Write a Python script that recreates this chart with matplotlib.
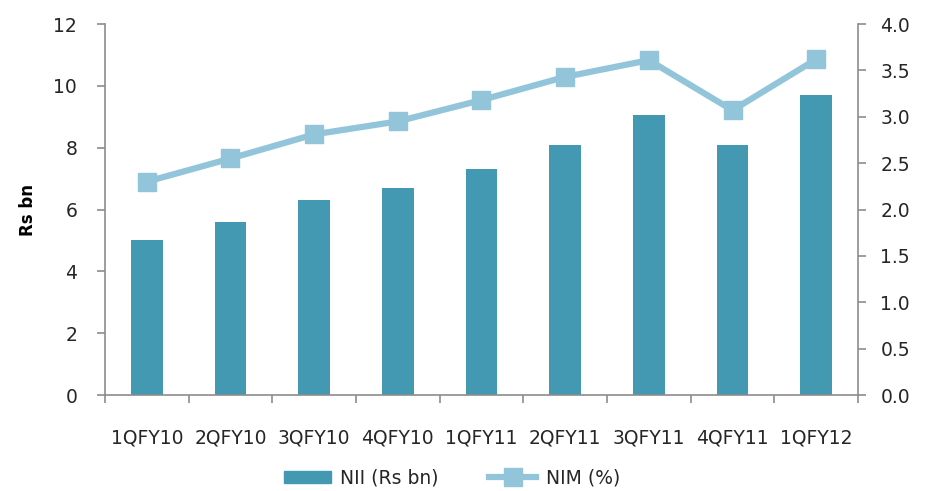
import numpy as np
import matplotlib as mpl
mpl.use("Agg")
import matplotlib.pyplot as plt
from matplotlib.lines import Line2D
from matplotlib.patches import Patch

quarters = ["1QFY10", "2QFY10", "3QFY10", "4QFY10", "1QFY11",
            "2QFY11", "3QFY11", "4QFY11", "1QFY12"]
nii = [5.0, 5.6, 6.3, 6.7, 7.3, 8.1, 9.05, 8.1, 9.7]
nim = [2.3, 2.55, 2.81, 2.95, 3.18, 3.43, 3.61, 3.07, 3.62]

bar_color = "#4399b1"
line_color = "#92c5d9"
spine_color = "#8c8c8c"
text_color = "#262626"

plt.rcParams["font.family"] = "DejaVu Sans"
plt.rcParams["font.size"] = 13.5
plt.rcParams["text.color"] = text_color
plt.rcParams["xtick.labelcolor"] = text_color
plt.rcParams["ytick.labelcolor"] = text_color

fig = plt.figure(figsize=(9.28, 4.91), dpi=100)
ax = fig.add_axes([0.1131, 0.1955, 0.8115, 0.7556])
ax2 = ax.twinx()

x = np.arange(len(quarters))
ax.bar(x, nii, width=0.38, color=bar_color, zorder=2)
ax2.plot(x, nim, color=line_color, lw=4.5, marker="s", markersize=13,
         markeredgecolor=line_color, solid_joinstyle="miter", zorder=3)

ax.set_xlim(-0.5, len(quarters) - 0.5)
ax.set_ylim(0, 12)
ax.set_yticks(range(0, 13, 2))
ax2.set_ylim(0, 4)
ax2.set_yticks(np.arange(0, 4.01, 0.5))
ax2.set_yticklabels([f"{v:.1f}" for v in np.arange(0, 4.01, 0.5)])

# category labels centred, tick marks between categories
ax.set_xticks(x)
ax.set_xticklabels(quarters)
ax.set_xticks(np.arange(-0.5, len(quarters), 1), minor=True)
ax.tick_params(axis="x", which="major", length=0, pad=24)
ax.tick_params(axis="x", which="minor", length=6, color=spine_color, width=1.2)

ax.tick_params(axis="y", length=6, color=spine_color, width=1.2, pad=14)
ax2.tick_params(axis="y", length=6, color=spine_color, width=1.2, pad=10)

for a in (ax, ax2):
    a.spines["top"].set_visible(False)
    for s in ("left", "right", "bottom"):
        a.spines[s].set_color(spine_color)
        a.spines[s].set_linewidth(1.2)
ax.spines["right"].set_visible(False)
ax2.spines["left"].set_visible(False)
ax2.spines["bottom"].set_visible(False)

ax.set_ylabel("Rs bn", fontweight="bold", fontsize=12, labelpad=12,
              color="black")

handles = [Patch(color=bar_color, label="NII (Rs bn)"),
           Line2D([0], [0], color=line_color, lw=4.5, marker="s",
                  markersize=13, label="NIM (%)")]
fig.legend(handles=handles, loc="center", bbox_to_anchor=(0.487, 0.027),
           ncol=2, frameon=False, handlelength=2.5, columnspacing=2.7,
           handleheight=0.6, handletextpad=0.5)

fig.savefig("out.png", dpi=100)
